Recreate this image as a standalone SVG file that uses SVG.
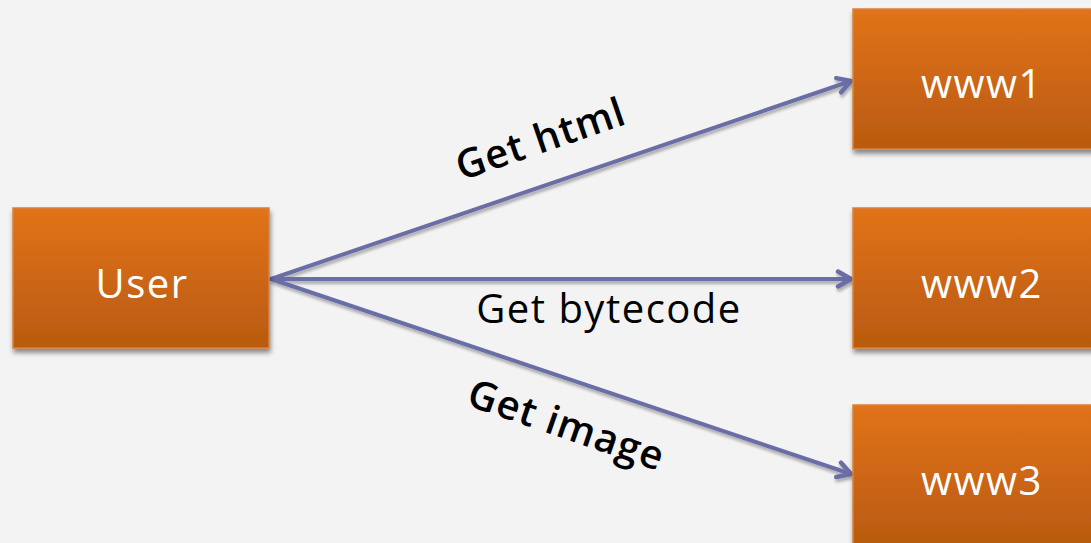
<svg xmlns="http://www.w3.org/2000/svg" width="1091" height="543" viewBox="0 0 1091 543">
  <defs>
    <linearGradient id="boxFill" x1="0" y1="0" x2="0" y2="1">
      <stop offset="0" stop-color="#e1731a"/>
      <stop offset="1" stop-color="#b95a10"/>
    </linearGradient>
    <filter id="shadow" x="-10%" y="-10%" width="125%" height="130%">
      <feGaussianBlur in="SourceAlpha" stdDeviation="2.5"/>
      <feOffset dx="1" dy="4" result="b"/>
      <feComponentTransfer><feFuncA type="linear" slope="0.45"/></feComponentTransfer>
      <feMerge><feMergeNode/><feMergeNode in="SourceGraphic"/></feMerge>
    </filter>
    <filter id="lineShadow" x="-5%" y="-20%" width="110%" height="140%">
      <feGaussianBlur in="SourceAlpha" stdDeviation="1.5"/>
      <feOffset dx="1" dy="3"/>
      <feComponentTransfer><feFuncA type="linear" slope="0.3"/></feComponentTransfer>
      <feMerge><feMergeNode/><feMergeNode in="SourceGraphic"/></feMerge>
    </filter>
    <marker id="head" viewBox="-16 -10 20 20" refX="0" refY="0" markerWidth="20" markerHeight="20" markerUnits="userSpaceOnUse" orient="auto">
      <path d="M-13,-7.5 L0,0 L-13,7.5" fill="none" stroke="#6a6ea6" stroke-width="4.5" stroke-linecap="round" stroke-linejoin="round"/>
    </marker>
    <style>
      .box { fill: url(#boxFill); stroke: #d9823f; stroke-width: 1.5; filter: url(#shadow); }
      .node-label { font-family: "Open Sans", Lato, sans-serif; font-size: 40px; letter-spacing: 1.5px; fill: #ffffff; text-anchor: middle; }
      .edge { stroke: #6a6ea6; stroke-width: 4; fill: none; stroke-linecap: round; marker-end: url(#head); }
      .edge-label { font-family: "Open Sans", Lato, sans-serif; font-size: 40px; letter-spacing: 1.5px; fill: #000000; text-anchor: middle; }
      .bold { font-weight: 600; letter-spacing: 1px; }
    </style>
  </defs>

  <rect width="1091" height="543" fill="#f3f3f3"/>

  <g id="connectors" filter="url(#lineShadow)">
    <line class="edge" x1="271" y1="279" x2="851" y2="81"/>
    <line class="edge" x1="271" y1="279" x2="851" y2="279"/>
    <line class="edge" x1="271" y1="279" x2="851" y2="474"/>
  </g>

  <g id="edge-labels">
    <text class="edge-label bold" transform="translate(545,152) rotate(-19)">Get html</text>
    <text class="edge-label" x="609" y="323">Get bytecode</text>
    <text class="edge-label bold" transform="translate(562,438) rotate(19)">Get image</text>
  </g>

  <g id="node-user">
    <rect class="box" x="13" y="208" width="256" height="140"/>
    <text class="node-label" x="142" y="298">User</text>
  </g>

  <g id="node-www1">
    <rect class="box" x="853" y="9" width="256" height="140"/>
    <text class="node-label" x="982" y="98">www1</text>
  </g>

  <g id="node-www2">
    <rect class="box" x="853" y="208" width="256" height="140"/>
    <text class="node-label" x="982" y="298">www2</text>
  </g>

  <g id="node-www3">
    <rect class="box" x="853" y="405" width="256" height="140"/>
    <text class="node-label" x="982" y="495">www3</text>
  </g>
</svg>
